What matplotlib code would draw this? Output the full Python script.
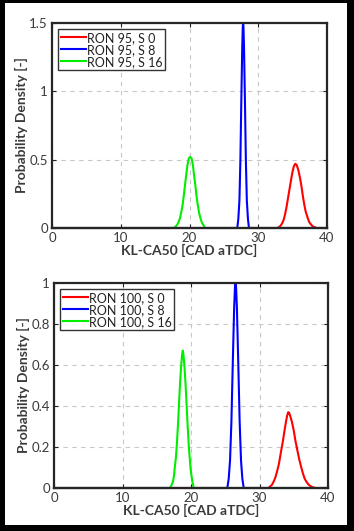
"""KL-CA50 probability density plots for RON 95 and RON 100."""

import matplotlib
matplotlib.use("Agg")
import matplotlib.pyplot as plt
from matplotlib.patches import Rectangle

plt.rcParams["font.family"] = ["Lato", "DejaVu Sans"]

# ---- data ----
labels_95 = ["RON 95, S 0", "RON 95, S 8", "RON 95, S 16"]
labels_100 = ["RON 100, S 0", "RON 100, S 8", "RON 100, S 16"]

# RON 95
x95_s0 = [0, 32.8, 33.1, 33.3, 33.5, 33.7, 33.9, 34.1, 34.3, 34.55, 34.8, 35.0, 35.2, 35.4,
          35.6, 35.85, 36.1, 36.3, 36.5, 36.7, 36.9, 37.15, 37.4, 37.6, 37.8, 38.0, 38.5, 40]
y95_s0 = [0, 0.0, 0.01, 0.02, 0.037, 0.06, 0.10, 0.15, 0.21, 0.285, 0.36, 0.415, 0.455, 0.47,
          0.46, 0.42, 0.36, 0.30, 0.23, 0.17, 0.12, 0.08, 0.045, 0.03, 0.018, 0.01, 0.0, 0]
x95_s8 = [0, 26.95, 27.1, 27.26, 27.4, 27.53, 27.67, 27.75, 27.8, 27.85, 27.93, 28.07, 28.2,
          28.34, 28.5, 28.65, 40]
y95_s8 = [0, 0.0, 0.066, 0.20, 0.49, 0.91, 1.32, 1.47, 1.5, 1.47, 1.32, 0.91, 0.49,
          0.20, 0.066, 0.0, 0]
x95_s16 = [0, 17.6, 17.9, 18.2, 18.4, 18.6, 18.8, 19.0, 19.2, 19.35, 19.5, 19.7, 19.9, 20.1,
           20.3, 20.5, 20.65, 20.85, 21.0, 21.2, 21.4, 21.6, 21.8, 22.0, 22.3, 40]
y95_s16 = [0, 0.0, 0.006, 0.023, 0.043, 0.07, 0.115, 0.17, 0.25, 0.315, 0.38, 0.46, 0.51, 0.52,
           0.51, 0.46, 0.39, 0.315, 0.24, 0.17, 0.11, 0.07, 0.04, 0.023, 0.0, 0]

# RON 100
x100_s0 = [0, 31.3, 31.8, 32.05, 32.3, 32.6, 32.85, 33.1, 33.4, 33.65, 33.9, 34.05, 34.2, 34.35,
           34.5, 34.75, 35.0, 35.25, 35.55, 35.8, 36.1, 36.35, 36.6, 36.9, 37.2, 37.7, 38.2, 40]
y100_s0 = [0, 0.0, 0.015, 0.03, 0.05, 0.085, 0.12, 0.17, 0.225, 0.28, 0.33, 0.355, 0.37, 0.365,
           0.35, 0.32, 0.28, 0.23, 0.18, 0.14, 0.10, 0.07, 0.045, 0.028, 0.015, 0.004, 0.0, 0]
x100_s8 = [0, 25.3, 25.5, 25.7, 25.9, 26.1, 26.3, 26.42, 26.5, 26.58, 26.7, 26.9, 27.1, 27.3,
           27.5, 27.7, 40]
y100_s8 = [0, 0.0, 0.044, 0.135, 0.325, 0.61, 0.88, 0.98, 1.0, 0.98, 0.88, 0.61, 0.325, 0.135,
           0.044, 0.0, 0]
x100_s16 = [0, 16.9, 17.1, 17.35, 17.5, 17.6, 17.8, 17.95, 18.1, 18.25, 18.4, 18.55, 18.7, 18.8,
            18.9, 19.05, 19.2, 19.35, 19.5, 19.65, 19.8, 19.95, 20.2, 20.4, 40]
y100_s16 = [0, 0.0, 0.01, 0.03, 0.055, 0.09, 0.15, 0.22, 0.31, 0.41, 0.51, 0.59, 0.65, 0.67,
            0.65, 0.59, 0.51, 0.41, 0.31, 0.22, 0.15, 0.09, 0.03, 0.0, 0]

xticks = [0, 10, 20, 30, 40]
yticks_95 = [0, 0.5, 1, 1.5]
ytick_labels_95 = ["0", "0.5", "1", "1.5"]
yticks_100 = [0, 0.2, 0.4, 0.6, 0.8, 1]
ytick_labels_100 = ["0", "0.2", "0.4", "0.6", "0.8", "1"]

COLORS = ["#ff0000", "#0000ff", "#00ee00"]
TEXT = "#3a3a3a"


def style_axes(ax, yticks, yticklabels, ymax):
    ax.set_xlim(0, 40)
    ax.set_ylim(0, ymax)
    ax.set_xticks(xticks)
    ax.set_xticklabels([str(t) for t in xticks], fontsize=9.5, color=TEXT)
    ax.set_yticks(yticks)
    ax.set_yticklabels(yticklabels, fontsize=9.5, color=TEXT)
    ax.tick_params(direction="in", top=True, right=True, length=3, width=0.8,
                   colors="#222222", labelcolor=TEXT, pad=3)
    ax.grid(True, linestyle=(0, (4, 4)), color="#c8c8c8", linewidth=0.8)
    for spine in ax.spines.values():
        spine.set_linewidth(1.6)
        spine.set_color("#262626")
    ax.set_xlabel("KL-CA50 [CAD aTDC]", fontsize=10, fontweight="bold",
                  color=TEXT, labelpad=0)
    ax.set_ylabel("Probability Density [-]", fontsize=10, fontweight="bold",
                  color=TEXT, labelpad=1)


def draw(ax, series, labels):
    for (xs, ys), lab, col in zip(series, labels, COLORS):
        ax.plot(xs, ys, color=col, linewidth=1.5, label=lab, clip_on=False)
    leg = ax.legend(loc="upper left", fontsize=9, frameon=True, fancybox=False,
                    borderpad=0.2, labelspacing=0.0, handlelength=2.0,
                    handletextpad=0.1, borderaxespad=0.5)
    leg.get_frame().set_edgecolor("black")
    leg.get_frame().set_linewidth(1.0)
    for t in leg.get_texts():
        t.set_color("#222222")


fig = plt.figure(figsize=(3.54, 5.31), dpi=100, facecolor="black")
fig.patches.append(Rectangle((5 / 354, 1 - 525 / 531), 342 / 354, 522 / 531,
                             transform=fig.transFigure, facecolor="white",
                             edgecolor="none", zorder=-5))

ax1 = fig.add_axes([52 / 354, 1 - 228 / 531, 275 / 354, 205 / 531])
draw(ax1, [(x95_s0, y95_s0), (x95_s8, y95_s8), (x95_s16, y95_s16)], labels_95)
style_axes(ax1, yticks_95, ytick_labels_95, 1.5)

ax2 = fig.add_axes([54 / 354, 1 - 488 / 531, 274 / 354, 205 / 531])
draw(ax2, [(x100_s0, y100_s0), (x100_s8, y100_s8), (x100_s16, y100_s16)], labels_100)
style_axes(ax2, yticks_100, ytick_labels_100, 1.0)

fig.savefig("out.png", dpi=100, facecolor="black")
